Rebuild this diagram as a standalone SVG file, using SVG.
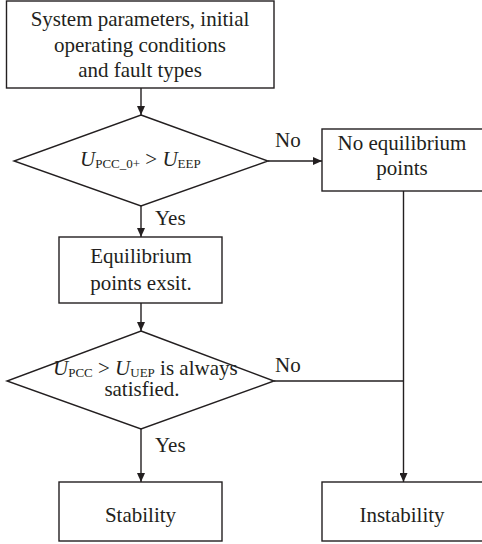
<svg xmlns="http://www.w3.org/2000/svg" width="482" height="544" viewBox="0 0 482 544">
<defs>
<marker id="ah" markerWidth="10" markerHeight="8" refX="9" refY="4" orient="auto" markerUnits="userSpaceOnUse">
<path d="M0,0 L9,4 L0,8 Z" fill="#231f20"/>
</marker>
<style>
.box{fill:#fff;stroke:#231f20;stroke-width:1.4}
.ln{fill:none;stroke:#231f20;stroke-width:1.4}
text{font-family:"Liberation Serif","Times New Roman",Times,Tinos,"Nimbus Roman","Nimbus Roman No9 L","Noto Serif","DejaVu Serif",FreeSerif,serif;font-size:21px;fill:#231f20}
.c{text-anchor:middle}
.sub{font-size:13px}
.it{font-style:italic}
</style>
</defs>
<g id="connectors">
<line class="ln" x1="141" y1="88" x2="141" y2="115" marker-end="url(#ah)"/>
<line class="ln" x1="268" y1="161" x2="322" y2="161" marker-end="url(#ah)"/>
<line class="ln" x1="141" y1="206" x2="141" y2="237" marker-end="url(#ah)"/>
<line class="ln" x1="141" y1="303" x2="141" y2="331" marker-end="url(#ah)"/>
<line class="ln" x1="274" y1="381" x2="403.5" y2="381"/>
<line class="ln" x1="403.5" y1="191" x2="403.5" y2="482" marker-end="url(#ah)"/>
<line class="ln" x1="141" y1="429" x2="141" y2="482" marker-end="url(#ah)"/>
<text x="275" y="147">No</text>
<text x="155" y="225">Yes</text>
<text x="275" y="372">No</text>
<text x="155" y="452">Yes</text>
</g>
<g id="start">
<rect class="box" x="6.5" y="1" width="267.5" height="87"/>
<text class="c" x="140" y="26">System parameters, initial</text>
<text class="c" x="140" y="52">operating conditions</text>
<text class="c" x="140" y="77">and fault types</text>
</g>
<g id="decision1">
<polygon class="box" points="141,115 268,161 141,206 14,161"/>
<text x="80" y="166"><tspan class="it">U</tspan><tspan class="sub" dy="2">PCC_0+</tspan><tspan dy="-2"> &gt; </tspan><tspan class="it">U</tspan><tspan class="sub" dy="2">EEP</tspan></text>
</g>
<g id="noeq">
<rect class="box" x="322" y="129" width="162" height="62"/>
<text class="c" x="402" y="150">No equilibrium</text>
<text class="c" x="402" y="175">points</text>
</g>
<g id="eqexist">
<rect class="box" x="59" y="237" width="163" height="66"/>
<text class="c" x="141" y="263">Equilibrium</text>
<text class="c" x="141" y="290">points exsit.</text>
</g>
<g id="decision2">
<polygon class="box" points="141,331 274,381 141,429 7,381"/>
<text x="53" y="375"><tspan class="it">U</tspan><tspan class="sub" dy="2">PCC</tspan><tspan dy="-2"> &gt; </tspan><tspan class="it">U</tspan><tspan class="sub" dy="2">UEP</tspan><tspan dy="-2"> is always</tspan></text>
<text class="c" x="142" y="396">satisfied.</text>
</g>
<g id="stability">
<rect class="box" x="59" y="482" width="163" height="59"/>
<text class="c" x="140.5" y="522">Stability</text>
</g>
<g id="instability">
<rect class="box" x="322" y="482" width="162" height="59"/>
<text class="c" x="402" y="522">Instability</text>
</g>
</svg>
